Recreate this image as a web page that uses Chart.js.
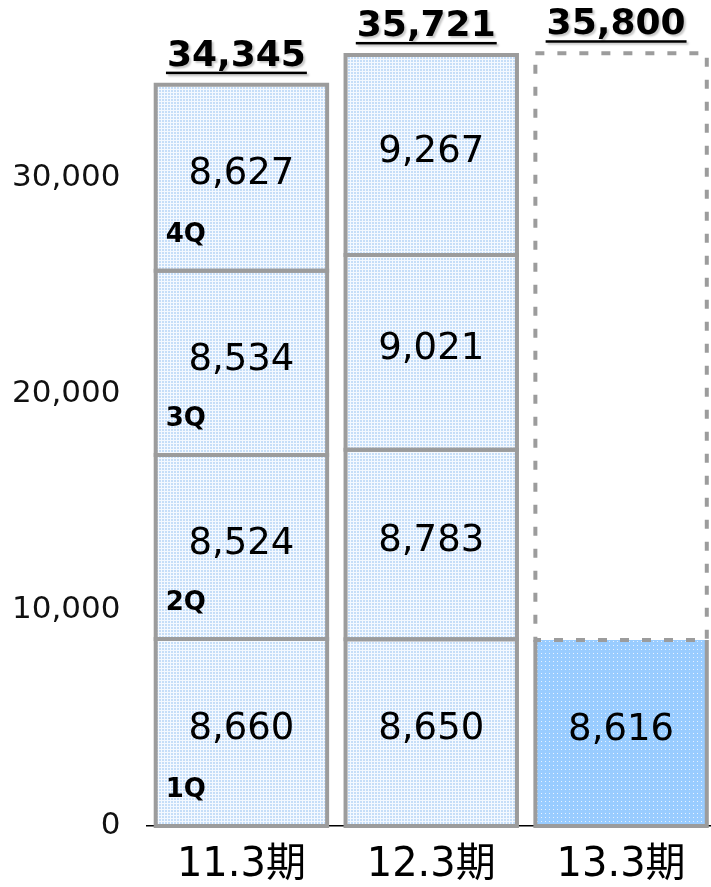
<!DOCTYPE html>
<html>
<head>
<meta charset="utf-8">
<script src="https://cdn.jsdelivr.net/npm/chart.js@4"></script>
<style>
  html, body { margin: 0; padding: 0; background: #ffffff; overflow: hidden; }
  #wrap { width: 711px; height: 887px; overflow: hidden; }
  canvas { display: block; }
</style>
</head>
<body>
<div id="wrap"><canvas id="c" width="716" height="887"></canvas></div>
<script>
// ---- data ----
const categories = ['11.3期', '12.3期', '13.3期'];
const q1 = [8660, 8650, 8616];
const q2 = [8524, 8783, null];
const q3 = [8534, 9021, null];
const q4 = [8627, 9267, null];
const forecastRest = [null, null, 27184];   // 35,800 forecast minus 8,616 actual
const totals = [34345, 35721, 35800];
const quarterNames = ['1Q', '2Q', '3Q', '4Q'];
const yTicks = [0, 10000, 20000, 30000];

// ---- fill patterns ----
function makePattern(size, bg, dot, dots) {
  const c = document.createElement('canvas');
  c.width = size; c.height = size;
  const x = c.getContext('2d');
  x.fillStyle = bg; x.fillRect(0, 0, size, size);
  x.fillStyle = dot;
  dots.forEach(d => x.fillRect(d[0], d[1], d[2], d[3]));
  return x.createPattern(c, 'repeat');
}
const lightPat = makePattern(3, '#f4f9ff', '#c6def8', [[0, 0, 2, 2]]);
const darkPat = makePattern(4, '#99ccff', '#e6f2ff', [[1, 1, 1, 1]]);

const FONT = '"DejaVu Sans", Verdana, "Noto Sans CJK JP", sans-serif';

const actualSets = [q1, q2, q3, q4].map((arr, i) => ({
  label: quarterNames[i],
  data: arr,
  backgroundColor: arr.map((v, j) => (forecastRest[j] != null ? darkPat : lightPat)),
  borderWidth: 0,
  stack: 's'
}));
const forecastSet = {
  label: 'forecast',
  data: forecastRest,
  backgroundColor: 'rgba(255,255,255,0)',
  borderWidth: 0,
  stack: 's',
  isForecast: true
};

const overlay = {
  id: 'overlay',
  afterDatasetsDraw(chart) {
    const ctx = chart.ctx;
    const y = chart.scales.y;
    ctx.save();
    chart.data.datasets.forEach((ds, di) => {
      const meta = chart.getDatasetMeta(di);
      meta.data.forEach((el, i) => {
        if (ds.data[i] == null) return;
        const p = el.getProps(['x', 'y', 'base', 'width'], true);
        const l = p.x - p.width / 2, r = p.x + p.width / 2;
        const t = Math.min(p.y, p.base), b = Math.max(p.y, p.base);
        ctx.strokeStyle = '#9c9c9c';
        ctx.lineWidth = 4;
        if (ds.isForecast) {
          ctx.setLineDash([9, 13]);
          ctx.strokeRect(l, t, r - l, b - t);
          ctx.setLineDash([]);
        } else {
          const forecastAbove = forecastRest[i] != null;
          ctx.beginPath();
          if (forecastAbove) {
            ctx.moveTo(l, t); ctx.lineTo(l, b); ctx.lineTo(r, b); ctx.lineTo(r, t);
          } else {
            ctx.rect(l, t, r - l, b - t);
          }
          ctx.stroke();
        }
      });
    });
    chart.data.datasets.forEach((ds, di) => {
      if (ds.isForecast) return;
      const meta = chart.getDatasetMeta(di);
      meta.data.forEach((el, i) => {
        const v = ds.data[i];
        if (v == null) return;
        const p = el.getProps(['x', 'y', 'base', 'width'], true);
        const cy = (p.y + p.base) / 2 - 3;
        ctx.fillStyle = '#000';
        ctx.font = '37px ' + FONT;
        ctx.textAlign = 'center';
        ctx.textBaseline = 'middle';
        ctx.fillText(v.toLocaleString('en-US'), p.x, cy);
        if (i === 0) {
          ctx.font = 'bold 26px ' + FONT;
          ctx.textAlign = 'left';
          ctx.textBaseline = 'middle';
          ctx.fillText(ds.label, p.x - p.width / 2 + 10, p.base - 36);
        }
      });
    });
    const meta0 = chart.getDatasetMeta(0);
    totals.forEach((tv, i) => {
      const el = meta0.data[i];
      const cx = el.x - 5;
      const top = y.getPixelForValue(tv);
      const txt = tv.toLocaleString('en-US');
      ctx.font = 'bold 36px ' + FONT;
      ctx.textAlign = 'center';
      ctx.textBaseline = 'alphabetic';
      ctx.shadowColor = 'rgba(0,0,0,0.22)';
      ctx.shadowOffsetX = 2; ctx.shadowOffsetY = 2; ctx.shadowBlur = 2;
      ctx.fillStyle = '#000';
      const base = top - 19;
      ctx.fillText(txt, cx, base);
      const w = ctx.measureText(txt).width;
      ctx.fillRect(cx - w / 2 - 1, base + 6, w + 2, 2.5);
      ctx.shadowColor = 'rgba(0,0,0,0)';
    });
    ctx.restore();
  }
};

new Chart(document.getElementById('c'), {
  type: 'bar',
  data: { labels: categories, datasets: [...actualSets, forecastSet] },
  options: {
    responsive: false,
    animation: false,
    layout: { padding: { top: 7, right: 0, bottom: 0, left: 0 } },
    plugins: { legend: { display: false }, tooltip: { enabled: false } },
    datasets: { bar: { categoryPercentage: 1, barPercentage: 0.903 } },
    scales: {
      x: {
        stacked: true,
        z: 1,
        grid: { display: false, drawTicks: false },
        border: { display: true, color: '#000', width: 1.5 },
        ticks: { color: '#000', font: { family: FONT, size: 40 }, padding: 16 },
        afterFit(s) { s.height = 61; }
      },
      y: {
        stacked: true,
        min: 0,
        max: 36200,
        grid: { display: false, drawTicks: false },
        border: { display: false },
        ticks: {
          color: '#111',
          font: { family: FONT, size: 31 },
          padding: 26,
          stepSize: 10000,
          callback: v => v.toLocaleString('en-US')
        },
        afterBuildTicks(s) { s.ticks = yTicks.map(v => ({ value: v })); },
        afterFit(s) { s.width = 146.5; }
      }
    }
  },
  plugins: [overlay]
});
</script>
</body>
</html>
